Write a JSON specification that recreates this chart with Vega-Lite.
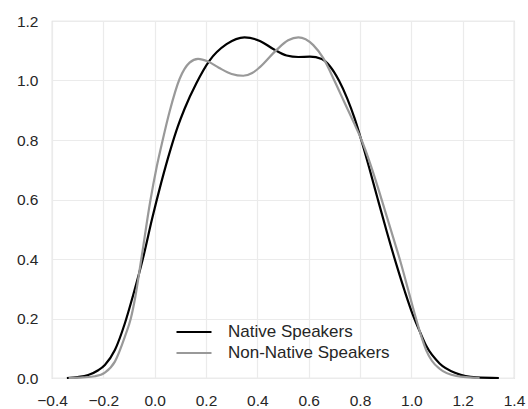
{
  "$schema": "https://vega.github.io/schema/vega-lite/v6.json",
  "width": 462,
  "height": 357,
  "autosize": {"type": "none"},
  "padding": {"left": 52, "top": 21, "right": 14, "bottom": 31},
  "background": "white",
  "config": {
    "view": {"stroke": "#d6d6d6", "strokeWidth": 1.2},
    "font": "Liberation Sans",
    "axis": {
      "grid": true,
      "gridColor": "#ebebeb",
      "gridWidth": 1.2,
      "domain": false,
      "ticks": false,
      "labelFlush": false,
      "labelFont": "Liberation Sans",
      "labelFontSize": 15.5,
      "labelColor": "#262626",
      "labelExpr": "replace(datum.label, '-', '\u2212')",
      "title": null
    }
  },
  "data": {
    "values": [
      {"x": -0.342, "y": 0.0, "series": "Native Speakers"},
      {"x": -0.30, "y": 0.003, "series": "Native Speakers"},
      {"x": -0.259, "y": 0.010, "series": "Native Speakers"},
      {"x": -0.22, "y": 0.026, "series": "Native Speakers"},
      {"x": -0.194, "y": 0.044, "series": "Native Speakers"},
      {"x": -0.155, "y": 0.094, "series": "Native Speakers"},
      {"x": -0.116, "y": 0.184, "series": "Native Speakers"},
      {"x": -0.085, "y": 0.275, "series": "Native Speakers"},
      {"x": -0.045, "y": 0.404, "series": "Native Speakers"},
      {"x": -0.01, "y": 0.535, "series": "Native Speakers"},
      {"x": 0.025, "y": 0.655, "series": "Native Speakers"},
      {"x": 0.063, "y": 0.772, "series": "Native Speakers"},
      {"x": 0.09, "y": 0.845, "series": "Native Speakers"},
      {"x": 0.117, "y": 0.906, "series": "Native Speakers"},
      {"x": 0.162, "y": 0.99, "series": "Native Speakers"},
      {"x": 0.213, "y": 1.066, "series": "Native Speakers"},
      {"x": 0.28, "y": 1.122, "series": "Native Speakers"},
      {"x": 0.35, "y": 1.145, "series": "Native Speakers"},
      {"x": 0.41, "y": 1.133, "series": "Native Speakers"},
      {"x": 0.462, "y": 1.106, "series": "Native Speakers"},
      {"x": 0.514, "y": 1.084, "series": "Native Speakers"},
      {"x": 0.56, "y": 1.079, "series": "Native Speakers"},
      {"x": 0.605, "y": 1.080, "series": "Native Speakers"},
      {"x": 0.651, "y": 1.072, "series": "Native Speakers"},
      {"x": 0.682, "y": 1.049, "series": "Native Speakers"},
      {"x": 0.718, "y": 1.0, "series": "Native Speakers"},
      {"x": 0.75, "y": 0.94, "series": "Native Speakers"},
      {"x": 0.78, "y": 0.87, "series": "Native Speakers"},
      {"x": 0.805, "y": 0.8, "series": "Native Speakers"},
      {"x": 0.838, "y": 0.70, "series": "Native Speakers"},
      {"x": 0.868, "y": 0.605, "series": "Native Speakers"},
      {"x": 0.905, "y": 0.49, "series": "Native Speakers"},
      {"x": 0.944, "y": 0.375, "series": "Native Speakers"},
      {"x": 0.975, "y": 0.29, "series": "Native Speakers"},
      {"x": 1.006, "y": 0.212, "series": "Native Speakers"},
      {"x": 1.035, "y": 0.152, "series": "Native Speakers"},
      {"x": 1.058, "y": 0.108, "series": "Native Speakers"},
      {"x": 1.11, "y": 0.049, "series": "Native Speakers"},
      {"x": 1.175, "y": 0.016, "series": "Native Speakers"},
      {"x": 1.253, "y": 0.002, "series": "Native Speakers"},
      {"x": 1.341, "y": 0.0, "series": "Native Speakers"},
      {"x": -0.335, "y": 0.0, "series": "Non-Native Speakers"},
      {"x": -0.28, "y": 0.002, "series": "Non-Native Speakers"},
      {"x": -0.232, "y": 0.006, "series": "Non-Native Speakers"},
      {"x": -0.194, "y": 0.018, "series": "Non-Native Speakers"},
      {"x": -0.155, "y": 0.055, "series": "Non-Native Speakers"},
      {"x": -0.116, "y": 0.139, "series": "Non-Native Speakers"},
      {"x": -0.093, "y": 0.2, "series": "Non-Native Speakers"},
      {"x": -0.076, "y": 0.27, "series": "Non-Native Speakers"},
      {"x": -0.052, "y": 0.40, "series": "Non-Native Speakers"},
      {"x": -0.018, "y": 0.59, "series": "Non-Native Speakers"},
      {"x": 0.008, "y": 0.71, "series": "Non-Native Speakers"},
      {"x": 0.030, "y": 0.795, "series": "Non-Native Speakers"},
      {"x": 0.058, "y": 0.895, "series": "Non-Native Speakers"},
      {"x": 0.097, "y": 1.005, "series": "Non-Native Speakers"},
      {"x": 0.136, "y": 1.06, "series": "Non-Native Speakers"},
      {"x": 0.169, "y": 1.073, "series": "Non-Native Speakers"},
      {"x": 0.208, "y": 1.064, "series": "Non-Native Speakers"},
      {"x": 0.250, "y": 1.043, "series": "Non-Native Speakers"},
      {"x": 0.30, "y": 1.022, "series": "Non-Native Speakers"},
      {"x": 0.345, "y": 1.016, "series": "Non-Native Speakers"},
      {"x": 0.38, "y": 1.025, "series": "Non-Native Speakers"},
      {"x": 0.41, "y": 1.045, "series": "Non-Native Speakers"},
      {"x": 0.475, "y": 1.103, "series": "Non-Native Speakers"},
      {"x": 0.52, "y": 1.135, "series": "Non-Native Speakers"},
      {"x": 0.56, "y": 1.145, "series": "Non-Native Speakers"},
      {"x": 0.618, "y": 1.119, "series": "Non-Native Speakers"},
      {"x": 0.657, "y": 1.075, "series": "Non-Native Speakers"},
      {"x": 0.70, "y": 1.0, "series": "Non-Native Speakers"},
      {"x": 0.74, "y": 0.925, "series": "Non-Native Speakers"},
      {"x": 0.775, "y": 0.86, "series": "Non-Native Speakers"},
      {"x": 0.806, "y": 0.80, "series": "Non-Native Speakers"},
      {"x": 0.84, "y": 0.72, "series": "Non-Native Speakers"},
      {"x": 0.87, "y": 0.64, "series": "Non-Native Speakers"},
      {"x": 0.90, "y": 0.555, "series": "Non-Native Speakers"},
      {"x": 0.93, "y": 0.47, "series": "Non-Native Speakers"},
      {"x": 0.958, "y": 0.39, "series": "Non-Native Speakers"},
      {"x": 0.985, "y": 0.305, "series": "Non-Native Speakers"},
      {"x": 1.01, "y": 0.225, "series": "Non-Native Speakers"},
      {"x": 1.04, "y": 0.137, "series": "Non-Native Speakers"},
      {"x": 1.058, "y": 0.093, "series": "Non-Native Speakers"},
      {"x": 1.08, "y": 0.058, "series": "Non-Native Speakers"},
      {"x": 1.11, "y": 0.031, "series": "Non-Native Speakers"},
      {"x": 1.175, "y": 0.007, "series": "Non-Native Speakers"},
      {"x": 1.266, "y": 0.0, "series": "Non-Native Speakers"}
    ]
  },
  "mark": {"type": "line", "strokeWidth": 2.2, "interpolate": "monotone"},
  "encoding": {
    "x": {
      "field": "x",
      "type": "quantitative",
      "scale": {"domain": [-0.4, 1.4], "nice": false, "zero": false},
      "axis": {"values": [-0.4, -0.2, 0, 0.2, 0.4, 0.6, 0.8, 1.0, 1.2, 1.4], "format": ".1f", "labelPadding": 15}
    },
    "y": {
      "field": "y",
      "type": "quantitative",
      "scale": {"domain": [0, 1.2], "nice": false},
      "axis": {"values": [0, 0.2, 0.4, 0.6, 0.8, 1.0, 1.2], "format": ".1f", "labelPadding": 14}
    },
    "color": {
      "field": "series",
      "type": "nominal",
      "scale": {"domain": ["Native Speakers", "Non-Native Speakers"], "range": ["#000000", "#999999"]},
      "legend": {
        "title": null,
        "orient": "none",
        "legendX": 132,
        "legendY": 301,
        "padding": 0,
        "symbolType": "M-2,0H2",
        "symbolSize": 306,
        "symbolStrokeWidth": 2.2,
        "labelFontSize": 17,
        "labelFont": "Liberation Sans",
        "labelColor": "#262626",
        "labelLimit": 400,
        "labelOffset": 24,
        "rowPadding": 3
      }
    }
  }
}
